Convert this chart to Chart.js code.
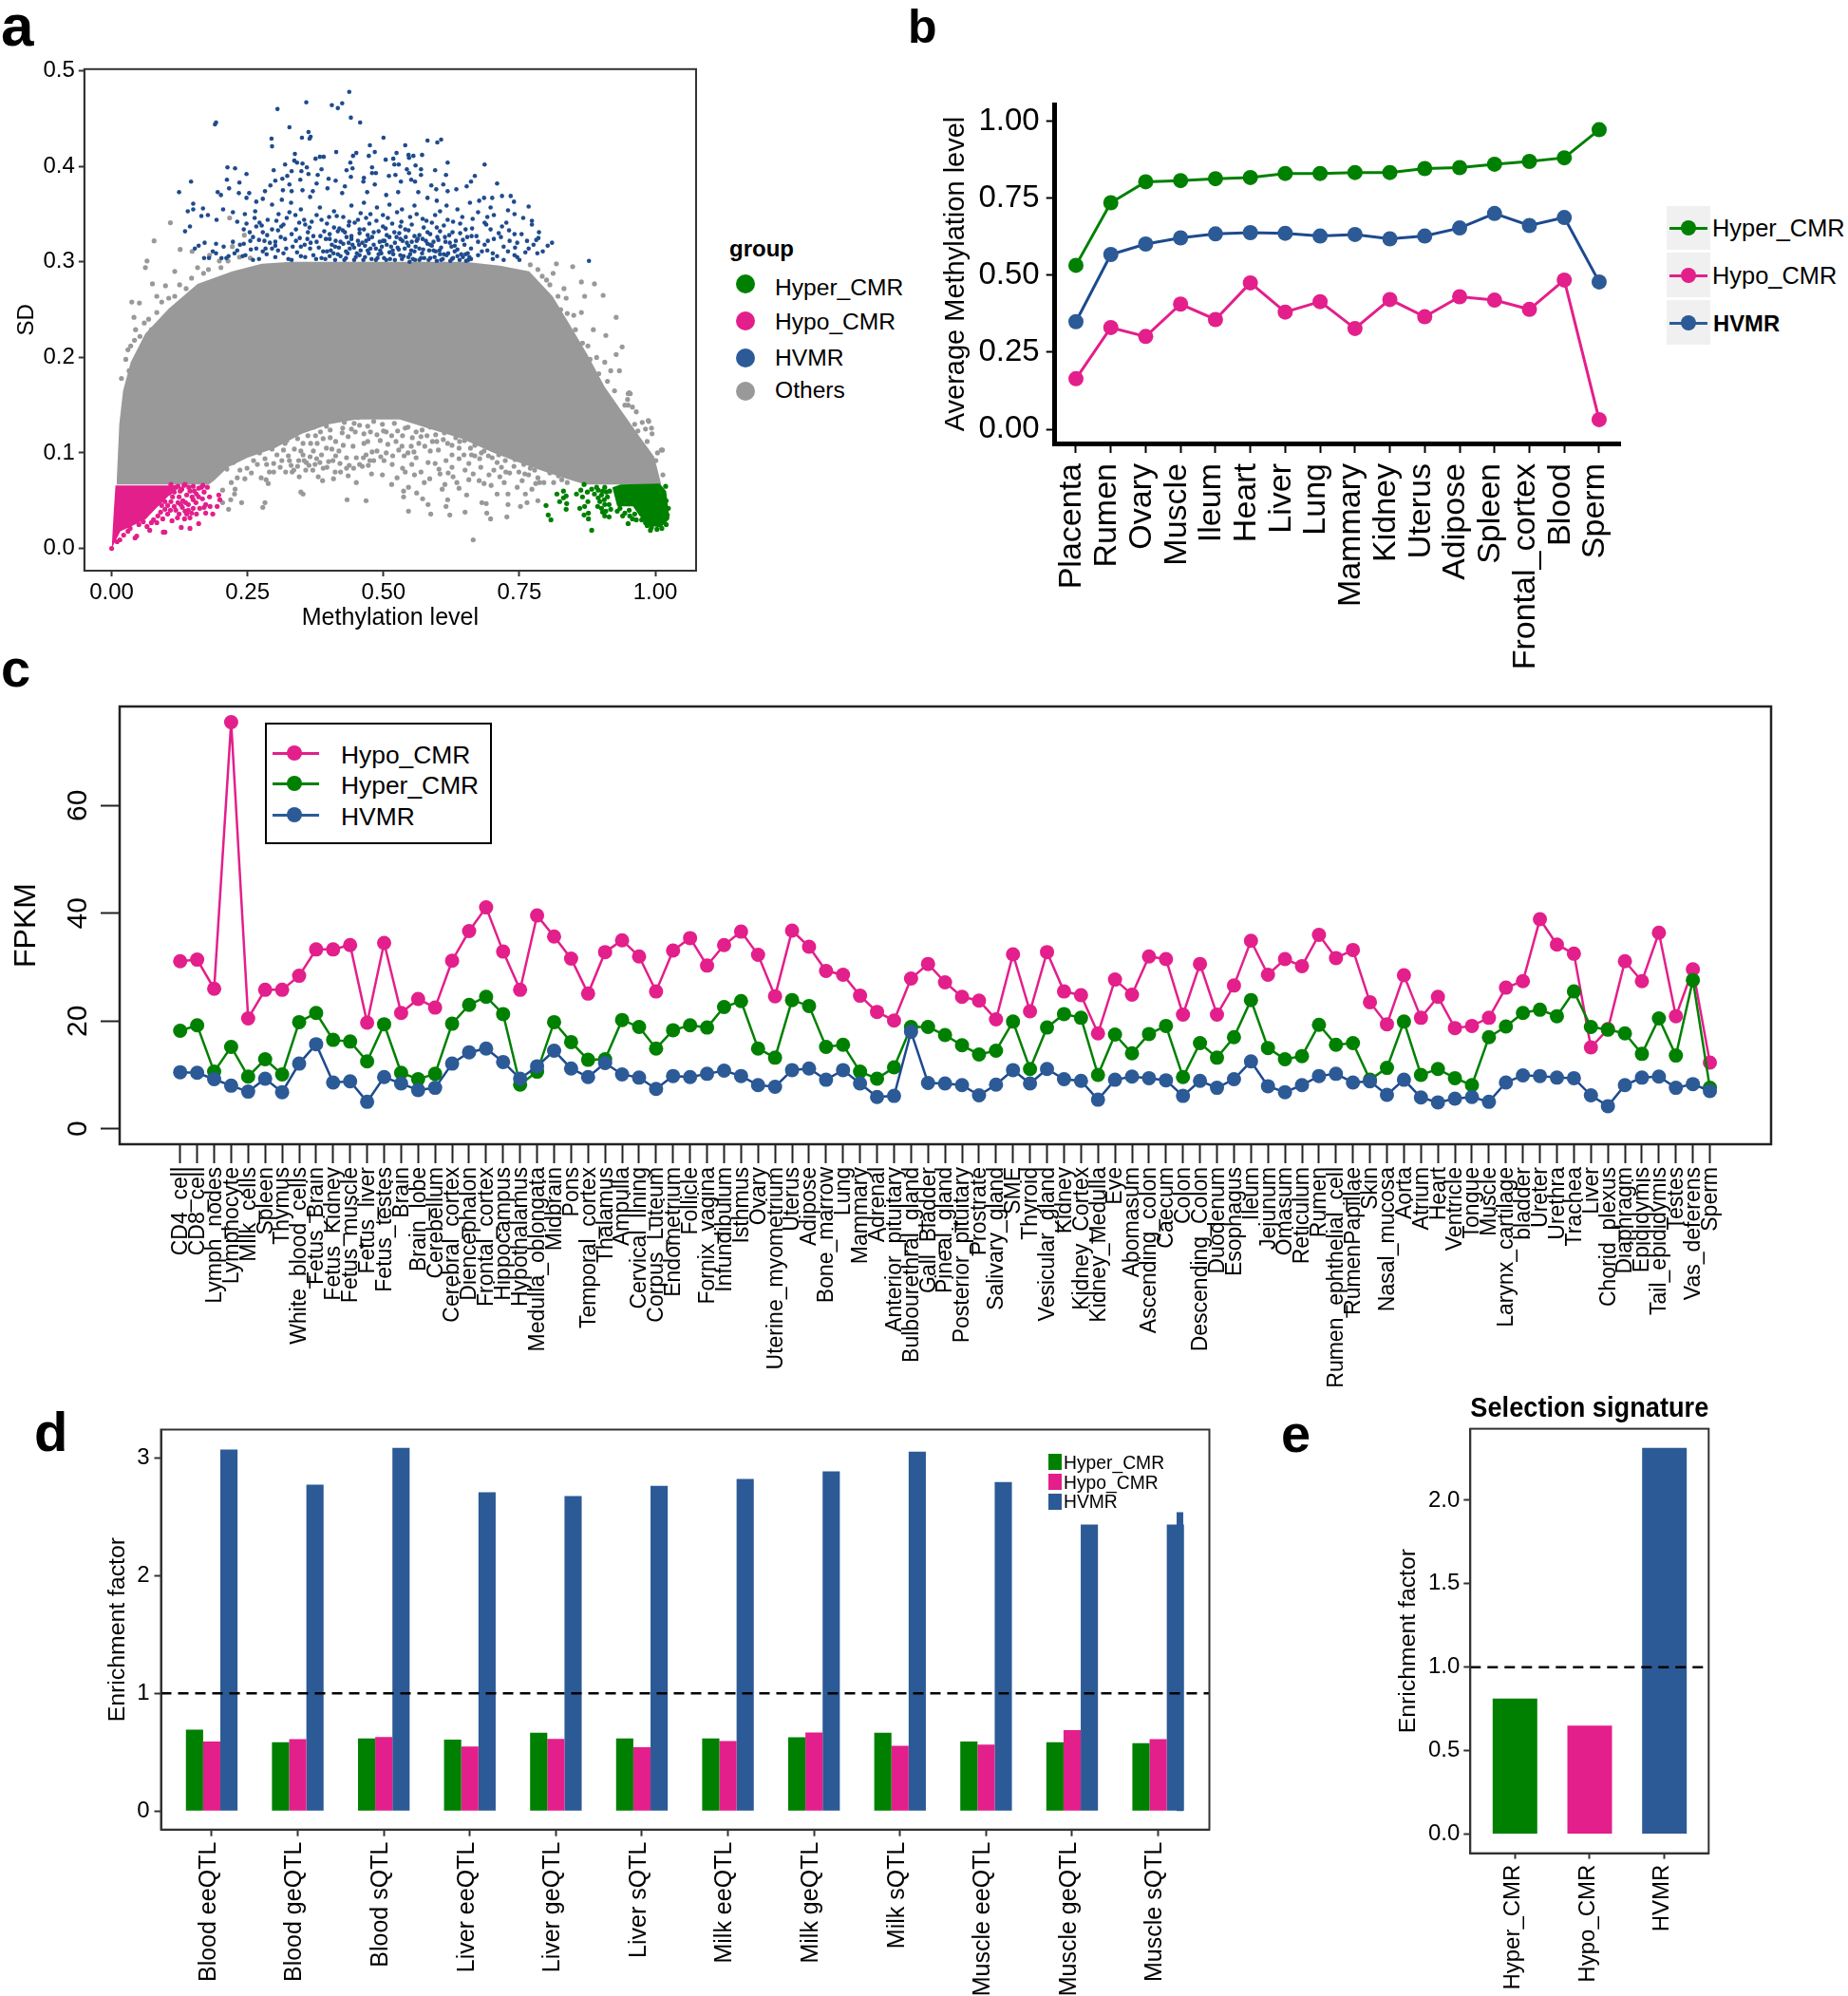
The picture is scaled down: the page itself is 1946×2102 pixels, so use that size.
<!DOCTYPE html>
<html><head><meta charset="utf-8">
<script src="https://cdn.jsdelivr.net/npm/chart.js@4"></script>
<style>
html,body{margin:0;padding:0;background:#fff;width:1946px;height:2102px;overflow:hidden;font-family:"Liberation Sans",Arial,sans-serif}
canvas{position:absolute}
.t{position:absolute;line-height:1;white-space:nowrap;color:#000}
.s{position:absolute}
</style></head><body>
<script>
// ---------- panel a : scatter values ----------
const hvmrPoints=[[.437,.478],[.358,.467],[.424,.466],[.405,.464],[.416,.461],[.305,.460],[.440,.451],[.457,.446],[.192,.446],[.190,.444],[.327,.441],[.362,.436],[.366,.431],[.364,.429],[.350,.430],[.294,.429],[.295,.421],[.500,.430],[.581,.427],[.606,.428],[.599,.425],[.540,.422],[.475,.422],[.413,.415],[.484,.415],[.473,.411],[.450,.414],[.444,.411],[.524,.414],[.571,.412],[.546,.412],[.555,.411],[.547,.409],[.337,.413],[.390,.410],[.383,.410],[.375,.408],[.518,.408],[.504,.407],[.336,.406],[.618,.404],[.341,.404],[.351,.403],[.439,.404],[.520,.402],[.528,.402],[.686,.402],[.319,.402],[.213,.399],[.227,.398],[.479,.399],[.559,.401],[.359,.399],[.443,.398],[.432,.396],[.386,.397],[.349,.395],[.298,.396],[.569,.397],[.595,.396],[.543,.397],[.547,.393],[.248,.392],[.331,.395],[.323,.390],[.362,.392],[.379,.391],[.479,.393],[.486,.393],[.615,.391],[.668,.390],[.510,.390],[.569,.391],[.522,.391],[.440,.389],[.146,.384],[.212,.386],[.235,.383],[.314,.387],[.347,.386],[.399,.387],[.412,.385],[.464,.388],[.463,.384],[.532,.384],[.551,.386],[.558,.384],[.661,.384],[.709,.382],[.301,.385],[.292,.380],[.327,.381],[.377,.382],[.429,.379],[.484,.381],[.610,.381],[.588,.380],[.653,.379],[.216,.377],[.124,.373],[.195,.373],[.234,.372],[.253,.372],[.201,.370],[.248,.367],[.282,.374],[.315,.375],[.331,.374],[.351,.375],[.370,.374],[.397,.377],[.424,.372],[.470,.373],[.505,.370],[.527,.373],[.564,.373],[.597,.376],[.618,.374],[.634,.376],[.676,.364],[.685,.367],[.700,.367],[.718,.369],[.734,.369],[.740,.363],[.767,.358],[.150,.361],[.140,.353],[.150,.355],[.168,.356],[.177,.349],[.165,.348],[.205,.355],[.223,.352],[.245,.350],[.266,.363],[.278,.366],[.295,.360],[.313,.365],[.330,.362],[.348,.355],[.365,.368],[.383,.357],[.409,.353],[.441,.359],[.464,.362],[.488,.357],[.511,.360],[.534,.355],[.557,.359],[.581,.367],[.598,.364],[.616,.359],[.636,.355],[.659,.362],[.697,.357],[.729,.354],[.741,.350],[.757,.346],[.773,.343],[.144,.337],[.135,.332],[.193,.344],[.231,.342],[.243,.334],[.263,.346],[.287,.344],[.307,.350],[.327,.352],[.354,.344],[.377,.349],[.400,.347],[.426,.347],[.453,.344],[.476,.350],[.499,.349],[.525,.352],[.549,.347],[.572,.345],[.595,.349],[.618,.344],[.645,.347],[.674,.352],[.703,.349],[.686,.341],[.773,.339],[.266,.337],[.278,.331],[.295,.334],[.316,.339],[.339,.334],[.356,.339],[.371,.327],[.391,.332],[.409,.336],[.429,.331],[.447,.341],[.464,.334],[.482,.331],[.499,.337],[.520,.331],[.540,.334],[.557,.327],[.581,.331],[.598,.336],[.627,.331],[.651,.334],[.697,.334],[.718,.337],[.741,.329],[.786,.331],[.785,.325],[.764,.322],[.732,.322],[.703,.324],[.674,.321],[.654,.326],[.633,.322],[.613,.326],[.592,.321],[.572,.324],[.552,.321],[.531,.324],[.511,.326],[.493,.321],[.473,.324],[.453,.322],[.432,.326],[.412,.322],[.394,.324],[.377,.321],[.360,.324],[.339,.322],[.319,.324],[.301,.321],[.281,.322],[.260,.326],[.243,.319],[.223,.321],[.192,.319],[.171,.320],[.160,.317],[.153,.314],[.170,.304],[.179,.304],[.192,.309],[.202,.304],[.215,.306],[.231,.312],[.246,.307],[.260,.302],[.278,.311],[.295,.314],[.316,.309],[.333,.316],[.348,.306],[.365,.314],[.386,.304],[.403,.312],[.421,.306],[.438,.314],[.456,.307],[.476,.314],[.496,.309],[.517,.312],[.537,.306],[.557,.311],[.575,.304],[.592,.312],[.616,.307],[.636,.306],[.656,.302],[.674,.307],[.691,.312],[.709,.306],[.729,.311],[.750,.302],[.767,.314],[.783,.309],[.793,.311],[.802,.317],[.810,.320],[.878,.301],
[.264,.353],[.272,.341],[.303,.343],[.322,.346],[.338,.349],[.368,.342],[.386,.344],[.414,.348],[.437,.342],[.458,.351],[.468,.346],[.487,.343],[.508,.346],[.533,.342],[.561,.350],[.579,.343],[.604,.353],[.628,.342],[.664,.345],[.691,.347],[.248,.340],[.276,.338],[.312,.337],[.345,.341],[.364,.336],[.396,.340],[.419,.335],[.436,.338],[.456,.334],[.474,.340],[.504,.335],[.516,.340],[.531,.337],[.552,.339],[.574,.336],[.589,.341],[.611,.338],[.641,.340],[.663,.335],[.689,.339],[.726,.341],[.254,.331],[.286,.328],[.306,.333],[.331,.329],[.361,.331],[.384,.327],[.401,.329],[.416,.332],[.441,.327],[.456,.330],[.471,.328],[.491,.332],[.506,.328],[.529,.330],[.546,.333],[.566,.328],[.586,.329],[.604,.332],[.621,.328],[.641,.330],[.662,.327],[.712,.330],[.731,.333],[.754,.329],[.271,.323],[.291,.320],[.311,.326],[.346,.325],[.366,.320],[.401,.324],[.421,.321],[.441,.324],[.461,.320],[.479,.326],[.502,.322],[.521,.320],[.541,.326],[.561,.322],[.581,.319],[.601,.323],[.622,.320],[.646,.323],[.671,.327],[.692,.322],[.716,.326],[.746,.320],[.781,.323],[.206,.316],[.236,.318],[.266,.314],[.301,.317],[.321,.314],[.355,.318],[.381,.315],[.411,.316],[.426,.319],[.446,.315],[.466,.317],[.486,.314],[.506,.318],[.526,.315],[.546,.317],[.566,.314],[.586,.318],[.606,.315],[.631,.317],[.661,.314],[.686,.318],[.721,.316],[.742,.315],[.776,.318],[.186,.311],[.226,.309],[.256,.313],[.285,.308],[.306,.312],[.341,.310],[.371,.307],[.396,.311],[.416,.308],[.431,.311],[.451,.309],[.471,.312],[.491,.308],[.511,.310],[.531,.307],[.551,.312],[.571,.309],[.596,.311],[.611,.308],[.631,.311],[.651,.308],[.681,.311],[.701,.309],[.741,.307],[.761,.310],[.211,.304],[.241,.306],[.271,.303],[.301,.305],[.331,.302],[.356,.305],[.376,.303],[.401,.306],[.411,.302],[.431,.304],[.446,.302],[.466,.305],[.486,.302],[.501,.304],[.521,.302],[.546,.305],[.566,.302],[.586,.304],[.606,.302],[.626,.303],[.646,.305],[.661,.303],[.701,.303],[.721,.302],[.746,.305],[.528,.313],[.512,.303],[.548,.300],[.558,.302],[.598,.301],[.623,.301],[.640,.302],[.652,.301],[.655,.309],[.604,.308],[.584,.312],[.535,.322],[.497,.316],[.478,.303],[.455,.318],[.436,.320],[.425,.333],[.405,.318],[.389,.311],[.348,.316],[.325,.303],[.283,.314],[.255,.322],
[.393,.303],[.408,.309],[.418,.315],[.428,.302],[.434,.309],[.443,.318],[.449,.305],[.458,.312],[.463,.302],[.468,.322],[.473,.309],[.482,.318],[.489,.304],[.494,.312],[.499,.322],[.505,.302],[.514,.316],[.518,.308],[.524,.326],[.534,.303],[.539,.314],[.543,.320],[.549,.308],[.554,.303],[.559,.316],[.563,.324],[.569,.304],[.573,.313],[.578,.322],[.583,.302],[.589,.317],[.594,.305],[.599,.326],[.603,.312],[.609,.303],[.614,.321],[.619,.309],[.625,.316],[.628,.304],[.636,.313],[.643,.308],[.649,.318],[.658,.305]];
const hypoPoints=[[.043,.011],[.046,.013],[.022,.014],[.015,.009],[.010,.007],[0,0],[.095,.017],[.098,.017],[.128,.022],[.144,.021],[.160,.026],[.070,.019],[.065,.023],[.073,.027],[.083,.027],[.094,.031],[.103,.036],[.111,.029],[.134,.031],[.124,.036],[.144,.032],[.156,.036],[.173,.037],[.186,.036],[.135,.039],[.150,.042],[.162,.042],[.173,.046],[.180,.054],[.194,.044],[.199,.051],[.197,.056],[.167,.052],[.150,.051],[.127,.046],[.115,.044],[.109,.049],[.124,.054],[.138,.056],[.156,.057],[.176,.064],[.165,.064],[.150,.065],[.135,.067],[.122,.065],[.109,.067],[.115,.059],[.129,.062],[.144,.060],[.170,.059],[.103,.045],[.090,.038],[.098,.041],[.118,.040],[.131,.050],[.141,.046],[.147,.037],[.155,.048],[.160,.054],[.126,.060],[.133,.066],[.142,.064],[.152,.060],[.160,.063],[.168,.066],[.118,.064],[.106,.058],[.098,.049],[.092,.045],[.085,.034],[.077,.030],[.108,.040],[.121,.032],[.141,.040],[.130,.043],[.138,.036],[.170,.043],[.181,.044],[.148,.054],[.136,.048],[.122,.048],[.112,.054],[.100,.062],[.030,.018],[.034,.021],[.050,.025],[.058,.028]];
const hyperPoints=[[.799,.045],[.803,.035],[.808,.030],[.883,.019],[.991,.019],[.819,.057],[.831,.060],[.836,.055],[.831,.053],[.824,.049],[.837,.047],[.836,.041],[.855,.057],[.863,.061],[.869,.067],[.866,.054],[.875,.059],[.876,.049],[.861,.042],[.870,.044],[.877,.037],[.869,.035],[.877,.031],[.883,.062],[.895,.061],[.907,.064],[.901,.056],[.898,.049],[.912,.054],[.907,.046],[.915,.046],[.901,.042],[.909,.039],[.907,.034],[.915,.033],[.930,.039],[.944,.037],[.953,.034],[.950,.026],[.962,.036],[.982,.027],[.985,.024],[1.019,.065],[1.020,.025],[.888,.057],[.895,.053],[.892,.064],[.903,.060],[.910,.059],[.906,.051],[.916,.060],[.894,.044],[.903,.038],[.918,.041],[.935,.042],[.940,.034],[.952,.040],[.958,.031],[.965,.030],[.975,.030],[.993,.022],[1.003,.020],[1.012,.021],[1.022,.035],[1.024,.042],[1.020,.050]];
const otherPoints=[[.204,.061],[.227,.062],[.226,.057],[.204,.048],[.219,.051],[.239,.048],[.215,.041],[.278,.043],[.282,.048],[.348,.059],[.352,.057],[.433,.051],[.468,.050],[.388,.071],[.450,.069],[.515,.067],[.288,.068],[.284,.072],[.275,.074],[.290,.080],[.298,.080],[.332,.080],[.335,.082],[.357,.082],[.363,.087],[.374,.088],[.389,.084],[.411,.080],[.421,.080],[.445,.084],[.456,.088],[.463,.095],[.461,.086],[.501,.092],[.516,.088],[.517,.097],[.479,.101],[.432,.095],[.412,.097],[.399,.091],[.377,.094],[.354,.092],[.330,.087],[.313,.092],[.298,.089],[.325,.097],[.348,.102],[.371,.102],[.395,.105],[.418,.102],[.444,.107],[.464,.110],[.488,.102],[.508,.109],[.523,.112],[.319,.110],[.342,.115],[.366,.110],[.389,.115],[.412,.112],[.435,.117],[.464,.120],[.488,.119],[.505,.122],[.526,.123],[.295,.104],[.272,.100],[.249,.084],[.231,.074],[.220,.069],[.261,.092],[.278,.109],[.301,.119],[.330,.127],[.360,.133],[.389,.132],[.418,.140],[.453,.137],[.482,.133],[.511,.140],
[.665,.009],[.546,.039],[.587,.036],[.622,.035],[.650,.038],[.690,.037],[.697,.031],[.727,.033],[.615,.044],[.618,.051],[.582,.046],[.572,.052],[.561,.058],[.537,.060],[.546,.064],[.537,.054],[.608,.062],[.613,.067],[.635,.069],[.639,.063],[.653,.056],[.681,.048],[.689,.047],[.729,.046],[.752,.044],[.764,.048],[.784,.050],[.709,.057],[.729,.057],[.746,.064],[.761,.057],[.773,.062],[.787,.069],[.813,.069],[.828,.072],[.698,.066],[.676,.071],[.714,.075],[.732,.079],[.749,.080],[.767,.077],[.784,.074],[.694,.077],[.665,.078],[.650,.082],[.619,.079],[.604,.078],[.575,.069],[.557,.077],[.540,.080],[.569,.080],[.595,.089],[.615,.092],[.639,.094],[.668,.097],[.709,.090],[.778,.082],[.802,.087],[.831,.080],[.819,.095],[.773,.095],[.732,.102],[.685,.102],[.639,.105],[.586,.102],[.551,.107],[.560,.095],[.534,.107],[.569,.117],[.610,.114],[.656,.120],[.703,.107],[.738,.105],[.586,.127],[.545,.127],[.621,.127],[.679,.127],
[.950,.162],[.954,.162],[.949,.156],[.958,.148],[.965,.143],[.976,.132],[.988,.133],[.982,.125],[.994,.120],[.968,.123],[1.013,.103],[1.014,.077],[1.001,.092],[1.004,.100],
[.108,.341],[.078,.322],[.065,.301],[.062,.294],[.037,.258],[.051,.257],[.041,.242],[.044,.229],[.075,.277],[.099,.275],[.126,.313],[.148,.311],[.116,.290],[.217,.346],[.158,.294],[.180,.307],[.244,.328],[.222,.316],[.818,.298],[.848,.295],[.864,.279],[.888,.277],[.904,.265],[.928,.242],[.870,.264],[.909,.223],[.939,.211],[.928,.203],[.952,.163],[.950,.150],[.934,.186],[.987,.134],[.993,.126],[1.011,.103],[.832,.272],[.821,.264],[.800,.281],[.784,.292],[.853,.229],[.886,.229],[.907,.195],[.864,.247],[.083,.264],[.083,.247],[.073,.229],[.116,.264],[.137,.272],[.169,.288],[.201,.294],[.035,.212],[.032,.186],
[.212,.083],[.224,.090],[.236,.082],[.245,.073],[.257,.079],[.268,.088],[.282,.094],[.304,.098],[.316,.103],[.336,.104],[.352,.098],[.361,.118],[.378,.110],[.384,.122],[.402,.116],[.424,.121],[.441,.125],[.456,.129],[.471,.112],[.494,.113],[.515,.118],[.535,.118],[.553,.116],[.571,.124],[.596,.119],[.612,.121],[.633,.116],[.649,.113],[.668,.108],[.688,.112],[.712,.098],[.724,.092],[.742,.093],[.758,.088],[.791,.085],[.806,.079],[.822,.076],[.838,.069],[.270,.110],[.288,.115],[.311,.124],[.345,.125],[.372,.127],[.395,.128],[.428,.132],[.446,.131],[.471,.128],[.498,.130],[.520,.131],[.344,.092],[.365,.096],[.386,.098],[.405,.104],[.426,.108],[.475,.092],[.495,.096],[.538,.097],[.556,.101],[.576,.107],[.601,.103],[.626,.098],[.648,.098],[.693,.097],[.717,.085],[.740,.086],[.770,.084],[.535,.084],[.552,.088],[.582,.090],[.602,.083],[.626,.085],[.657,.089],[.679,.085],[.703,.082],[.585,.073],[.628,.075],[.657,.072],[.685,.068],[.722,.069],[.755,.071],[.795,.069],[.320,.080],[.345,.075],[.380,.075],[.408,.073],[.435,.076],[.478,.078],[.498,.077],[.525,.074],[.472,.087],[.437,.087],
[.018,.178],[.026,.198],[.030,.208],[.042,.218],[.052,.222],[.060,.236],[.068,.240],[.092,.258],[.105,.262],[.125,.276],[.147,.283],[.178,.292],[.198,.301],[.214,.301],[.235,.305],[.255,.304],[.770,.297],[.792,.285],[.806,.276],[.826,.250],[.838,.246],[.852,.218],[.866,.215],[.880,.198],[.896,.183],[.912,.175],[.925,.165],[.944,.150],[.962,.130],[.985,.112],[.812,.288],[.836,.262],[.850,.244],[.876,.212],[.892,.200],[.918,.186],
[.285,.088],[.310,.085],[.327,.092],[.342,.086],[.358,.090],[.370,.082],[.383,.090],[.396,.085],[.407,.092],[.420,.089],[.432,.084],[.450,.095],[.468,.098],[.482,.092],[.505,.100],[.528,.103],[.545,.100],[.565,.110],[.590,.112],[.618,.110],[.640,.112],[.662,.098],[.677,.094],[.700,.095],[.725,.080],[.760,.078],[.780,.068],[.300,.109],[.322,.113],[.352,.110],[.375,.118],[.402,.124],[.425,.126],[.448,.122],[.476,.122],[.500,.123],[.540,.126],[.560,.122],[.580,.118],[.598,.112],[.626,.108],[.660,.105],[.680,.100]];
// outlines of the saturated clouds
const othersTop=[[.009,.067],[.014,.130],[.021,.165],[.035,.195],[.062,.225],[.105,.251],[.158,.277],[.222,.290],[.276,.298],[.329,.300],[.650,.300],[.714,.296],[.768,.290],[.811,.264],[.843,.234],[.875,.203],[.907,.169],[.939,.143],[.971,.117],[.998,.096],[1.011,.067]];
const othersBottom=[[.009,.067],[.179,.067],[.190,.072],[.214,.085],[.250,.095],[.300,.105],[.350,.120],[.400,.130],[.450,.135],[.530,.135],[.586,.125],[.644,.115],[.703,.100],[.749,.090],[.808,.078],[.854,.070],[.872,.067],[1.011,.067]];
const hypoTop=[[0,0],[.002,.020],[.004,.040],[.007,.066],[.125,.066]];
const hypoBottom=[[0,0],[.016,.018],[.039,.024],[.063,.031],[.080,.041],[.103,.054],[.125,.066]];
const hyperTop=[[.921,.064],[.936,.067],[1.008,.068],[1.020,.060],[1.026,.031]];
const hyperBottom=[[.921,.064],[.930,.044],[.959,.044],[.971,.034],[.988,.024],[1.010,.022],[1.026,.031]];
const aXTicks=[0,.25,.5,.75,1], aYTicks=[0,.1,.2,.3,.4,.5];

// ---------- panel b ----------
const bTissues=["Placenta","Rumen","Ovary","Muscle","Ileum","Heart","Liver","Lung","Mammary","Kidney","Uterus","Adipose","Spleen","Frontal_cortex","Blood","Sperm"];
const bHyper=[.532,.735,.803,.807,.813,.817,.830,.830,.833,.833,.846,.849,.860,.869,.881,.972];
const bHvmr=[.349,.567,.601,.621,.634,.638,.636,.627,.632,.618,.627,.653,.700,.661,.687,.478];
const bHypo=[.164,.330,.301,.406,.356,.475,.380,.414,.327,.421,.365,.430,.419,.389,.484,.031];

// ---------- panel c ----------
const cTissues=["CD4_cell","CD8_cell","Lymph_nodes","Lymphocyte","Milk_cells","Spleen","Thymus","White_blood_cells","Fetus_Brain","Fetus_Kidney","Fetus_muscle","Fetus_liver","Fetus_testes","Brain","Brain_lobe","Cerebellum","Cerebral_cortex","Diencephalon","Frontal_cortex","Hippocampus","Hypothalamus","Medulla_oblongata","Midbrain","Pons","Temporal_cortex","Thalamus","Ampulla","Cervical_lining","Corpus_Luteum","Endometrium","Follicle","Fornix_vagina","Infundibulum","Isthmus","Ovary","Uterine_myometrium","Uterus","Adipose","Bone_marrow","Lung","Mammary","Adrenal","Anterior_pituitary","Bulbourethral_gland","Gall_Bladder","Pineal_gland","Posterior_pituitary","Prostrate","Salivary_gland","SME","Thyroid","Vesicular_gland","Kidney","Kidney_Cortex","Kidney_Medulla","Eye","Abomasum","Ascending_colon","Caecum","Colon","Descending_Colon","Duodenum","Esophagus","Ileum","Jejunum","Omasum","Reticulum","Rumen","Rumen_ephthelial_cell","RumenPapillae","Skin","Nasal_mucosa","Aorta","Atrium","Heart","Ventricle","Tongue","Muscle","Larynx_cartilage","bladder","Ureter","Urethra","Trachea","Liver","Chorid_plexus","Diaphragm","Epididymis","Tail_epididymis","Testes","Vas_deferens","Sperm"];
const cHypo=[31.1,31.4,26.0,75.5,20.5,25.8,25.8,28.4,33.3,33.3,34.1,19.7,34.5,21.5,24.1,22.5,31.2,36.7,41.1,32.9,25.8,39.6,35.7,31.6,25.1,32.8,35.0,32.0,25.5,33.1,35.4,30.3,34.1,36.6,32.3,24.6,36.8,33.8,29.3,28.6,24.7,21.7,20.1,27.9,30.6,27.2,24.5,23.8,20.3,32.4,21.8,32.8,25.5,24.8,17.7,27.7,24.9,32.0,31.5,21.2,30.6,21.2,26.6,34.9,28.6,31.5,30.2,36.0,31.7,33.2,23.5,19.4,28.5,20.6,24.5,18.7,19.1,20.6,26.2,27.4,38.9,34.2,32.5,15.1,18.5,31.1,27.4,36.4,20.9,29.6,12.3];
const cHyper=[18.2,19.2,10.6,15.2,9.7,12.9,10.1,19.8,21.5,16.5,16.2,12.5,19.4,10.4,9.2,10.2,19.5,23.0,24.5,21.3,8.2,10.6,19.8,16.1,12.8,12.9,20.2,18.9,14.9,18.3,19.2,18.8,22.6,23.7,14.9,13.2,23.9,22.8,15.2,15.6,10.6,9.3,11.4,18.9,18.9,17.4,15.5,13.8,14.5,19.9,11.1,18.8,21.3,20.6,10.0,17.5,14.0,17.6,19.1,9.6,15.9,13.2,17.0,23.9,15.0,12.9,13.5,19.3,15.6,15.9,9.1,11.3,19.9,10.0,11.1,9.4,8.1,17.0,19.0,21.5,22.1,20.9,25.5,18.9,18.4,17.7,13.9,20.5,13.6,27.6,7.6];
const cHvmr=[10.5,10.4,9.2,8.0,6.9,9.3,6.8,12.1,15.7,8.6,8.8,5.0,9.6,8.4,7.2,7.6,12.1,14.2,14.9,12.4,9.3,11.6,14.5,11.2,9.6,12.2,10.1,9.5,7.4,9.8,9.6,10.2,10.8,9.8,8.1,7.8,10.9,11.2,9.1,10.9,8.4,5.9,6.1,18.0,8.5,8.4,8.1,6.2,8.2,10.9,8.4,11.1,9.2,8.9,5.4,9.1,9.7,9.4,9.0,6.1,8.9,7.6,9.2,12.5,7.9,6.8,8.1,9.8,10.2,8.6,8.8,6.3,9.1,5.8,4.9,5.6,5.9,5.0,8.6,9.9,9.8,9.5,9.4,6.2,4.2,8.1,9.5,9.7,7.6,8.3,7.0];
const cYTicks=[0,20,40,60];

// ---------- panel d ----------
const dGroups=["Blood eeQTL","Blood geQTL","Blood sQTL","Liver eeQTL","Liver geQTL","Liver sQTL","Milk eeQTL","Milk geQTL","Milk sQTL","Muscle eeQTL","Muscle geQTL","Muscle sQTL"];
const dHyper=[.692,.585,.617,.608,.666,.617,.617,.627,.666,.591,.585,.578];
const dHypo=[.591,.611,.630,.549,.614,.543,.595,.669,.556,.565,.689,.611];
const dHvmr=[3.071,2.772,3.084,2.707,2.675,2.762,2.821,2.886,3.052,2.795,2.434,2.434];
const dHvmrExtra=[[11.253,0],[11.253,2.538]]; // the stray taller sliver on the last bar
// ---------- panel e ----------
const eGroups=["Hyper_CMR","Hypo_CMR","HVMR"];
const eValues=[.8125,.649,2.315];

// ---------- styling ----------
const GREEN="#008000",PINK="#E31F8B",BLUE="#2C5A96",BLUEDOT="#1F4B8C",BLUELINE="#1D4A8F",GREY="#999999",FAM='"Liberation Sans",Arial,sans-serif';
Chart.defaults.font.family=FAM; Chart.defaults.color="#000"; Chart.defaults.animation=false;

const pts=a=>a.map(([x,y])=>({x,y}));
const xy=a=>a.map((y,x)=>({x,y}));
const onlyTicks=list=>s=>{s.ticks=list.map(v=>({value:v}));};
const noScalePad=s=>{s.paddingTop=0;s.paddingBottom=0;s.paddingLeft=0;s.paddingRight=0;};

const frameBox=(color,w)=>({id:'frameBox',afterDatasetsDraw(ch){const a=ch.chartArea,c=ch.ctx;c.save();c.strokeStyle=color;c.lineWidth=w;c.strokeRect(a.left,a.top,a.right-a.left,a.bottom-a.top);c.restore();}});

function panel(rect,frame,cfg,noTopPad){
  const cv=document.createElement('canvas');
  cv.width=rect.r-rect.l; cv.height=rect.b-rect.t;
  cv.style.left=rect.l+'px'; cv.style.top=rect.t+'px';
  document.body.appendChild(cv);
  cfg.options=cfg.options||{};
  cfg.options.responsive=false; cfg.options.maintainAspectRatio=false; cfg.options.events=[];
  cfg.options.layout={autoPadding:false,padding:{left:0,bottom:0,right:rect.r-frame.r,top:noTopPad?0:frame.t-rect.t}};
  cfg.options.scales.x.afterFit=s=>{s.height=rect.b-frame.b;noScalePad(s);};
  cfg.options.scales.y.afterFit=s=>{s.width=frame.l-rect.l;noScalePad(s);};
  cfg.options.plugins=Object.assign({legend:{display:false},tooltip:{enabled:false}},cfg.options.plugins||{});
  return new Chart(cv,cfg);
}
function axis(o){
  const a={type:'linear',min:o.min,max:o.max,offset:false,
    grid:{offset:false,drawOnChartArea:false,drawTicks:true,tickLength:o.tick,tickColor:o.tickColor||'#333',tickWidth:o.tickW||2},
    border:{display:true,color:o.bc||'#333',width:o.bw||2},
    ticks:{autoSkip:false,padding:o.pad,color:o.color||'#000',font:{size:o.size},callback:o.cb,display:o.show!==false,labelOffset:o.off||0}};
  if(o.vert){a.ticks.minRotation=90;a.ticks.maxRotation=90;}
  if(o.list)a.afterBuildTicks=onlyTicks(o.list);
  if(o.title)a.title={display:true,text:o.title,padding:0,font:{size:o.tsize},color:'#000'};
  return a;
}
// ---------- a ----------
panel({l:14,t:50,r:738,b:666},{l:88.8,t:72.8,r:733,b:601},{type:'scatter',data:{datasets:[
 {label:'Hyper_CMR',data:pts(hyperPoints),backgroundColor:GREEN,pointRadius:2.6,borderWidth:0},
 {label:'Hypo_CMR',data:pts(hypoPoints),backgroundColor:PINK,pointRadius:2.6,borderWidth:0},
 {label:'Hyper_CMR cloud',data:pts(hyperTop),showLine:true,fill:'+1',backgroundColor:GREEN,borderWidth:0,pointRadius:0},
 {label:'Hyper_CMR cloud',data:pts(hyperBottom),showLine:true,borderWidth:0,pointRadius:0},
 {label:'Hypo_CMR cloud',data:pts(hypoTop),showLine:true,fill:'+1',backgroundColor:PINK,borderWidth:0,pointRadius:0},
 {label:'Hypo_CMR cloud',data:pts(hypoBottom),showLine:true,borderWidth:0,pointRadius:0},
 {label:'HVMR',data:pts(hvmrPoints),backgroundColor:BLUEDOT,pointRadius:2.3,borderWidth:0},
 {label:'Others',data:pts(otherPoints),backgroundColor:GREY,pointRadius:2.6,borderWidth:0},
 {label:'Others cloud',data:pts(othersTop),showLine:true,fill:'+1',backgroundColor:GREY,borderWidth:0,pointRadius:0},
 {label:'Others cloud',data:pts(othersBottom),showLine:true,borderWidth:0,pointRadius:0}
]},options:{scales:{
 x:axis({min:-.0503,max:1.075,tick:6,pad:3,size:24,list:aXTicks,cb:v=>v.toFixed(2),title:'Methylation level',tsize:25}),
 y:axis({min:-.0233,max:.5018,tick:6,pad:4,size:24,list:aYTicks,cb:v=>v.toFixed(1),title:'SD',tsize:24})
}},plugins:[frameBox('#333',2)]});

// ---------- b ----------
const lineSet=(label,vals,color,lc,r,w)=>({label,data:xy(vals),showLine:true,borderColor:lc||color,backgroundColor:color,pointBackgroundColor:color,pointBorderWidth:0,pointRadius:r,borderWidth:w});
panel({l:990,t:100,r:1714,b:725},{l:1110.7,t:110,r:1706,b:467},{type:'scatter',data:{datasets:[
 lineSet('Hyper_CMR',bHyper,GREEN,GREEN,8,3),
 lineSet('HVMR',bHvmr,BLUE,BLUELINE,8,3),
 lineSet('Hypo_CMR',bHypo,PINK,PINK,8,3)
]},options:{scales:{
 x:axis({min:-.607,max:15.6,tick:10,pad:11,size:34,vert:true,off:-4,list:bTissues.map((_,i)=>i),cb:v=>bTissues[v],bc:'#000',bw:5,tickColor:'#000',color:'#000'}),
 y:axis({min:-.0462,max:1.054,tick:9,pad:7,size:33,list:[0,.25,.5,.75,1],cb:v=>v.toFixed(2),bc:'#000',bw:5,tickColor:'#000',title:'Average Methylation level',tsize:29})
}}});

// ---------- c ----------
const rotatedYTicks={id:'rotatedYTicks',afterDraw(ch){const s=ch.scales.y,c=ch.ctx;c.save();c.font='30px '+FAM;c.fillStyle='#000';c.textAlign='center';c.textBaseline='middle';
 cYTicks.forEach(v=>{c.save();c.translate(ch.chartArea.left-43.4,s.getPixelForValue(v));c.rotate(-Math.PI/2);c.fillText(String(v),0,0);c.restore();});c.restore();}};
panel({l:9,t:738,r:1872,b:1480},{l:126,t:744,r:1865,b:1205},{type:'scatter',data:{datasets:[
 lineSet('HVMR',cHvmr,BLUE,BLUELINE,7.5,2.5),
 lineSet('Hyper_CMR',cHyper,GREEN,GREEN,7.5,2.5),
 lineSet('Hypo_CMR',cHypo,PINK,PINK,7.5,2.5)
]},options:{scales:{
 x:axis({min:-3.56,max:93.6,tick:20,pad:4,size:23,vert:true,off:1,list:cTissues.map((_,i)=>i),cb:v=>cTissues[v],bc:'#222',tickColor:'#222'}),
 y:axis({min:-2.87,max:78.4,tick:20,pad:4,size:30,list:cYTicks,cb:()=>'',bc:'#222',tickColor:'#222',title:'FPKM',tsize:32})
}},plugins:[frameBox('#222',2.5),rotatedYTicks]});

// ---------- d ----------
const barSet=(label,vals,color)=>({type:'bar',label,data:xy(vals),backgroundColor:color,borderWidth:0,categoryPercentage:.6,barPercentage:1});
const dashed=(a,b)=>({type:'scatter',label:'Enrichment = 1',data:[{x:a,y:1},{x:b,y:1}],showLine:true,borderColor:'#000',borderDash:[11,7],borderWidth:2.5,pointRadius:0});
panel({l:109,t:1500,r:1278,b:2102},{l:169.5,t:1505.5,r:1273.5,b:1926.7},{type:'bar',data:{datasets:[
 dashed(-.59,11.595),
 {type:'scatter',label:'HVMR',data:pts(dHvmrExtra),showLine:true,borderColor:BLUE,borderWidth:7,pointRadius:0},
 barSet('Hyper_CMR',dHyper,GREEN),barSet('Hypo_CMR',dHypo,PINK),barSet('HVMR',dHvmr,BLUE)
]},options:{scales:{
 x:axis({min:-.59,max:11.595,tick:7,pad:6,size:25,vert:true,off:-3,list:dGroups.map((_,i)=>i),cb:v=>dGroups[v]}),
 y:axis({min:-.156,max:3.24,tick:7,pad:5,size:24,list:[0,1,2,3],cb:v=>String(v),title:'Enrichment factor',tsize:24.8})
}},plugins:[frameBox('#333',2)]});

// ---------- e ----------
panel({l:1468,t:1467,r:1805,b:2102},{l:1548.3,t:1504.6,r:1799.3,b:1951.6},{type:'bar',data:{datasets:[
 dashed(-.597,2.592),
 {type:'bar',label:'Enrichment factor',data:xy(eValues),backgroundColor:[GREEN,PINK,BLUE],borderWidth:0,categoryPercentage:.597,barPercentage:1}
]},options:{plugins:{title:{display:true,fullSize:false,text:'Selection signature',font:{size:28.6,weight:'bold'},color:'#000',padding:{top:0,bottom:3.3}}},scales:{
 x:axis({min:-.597,max:2.592,tick:6,pad:6,size:24,vert:true,off:-2,list:[0,1,2],cb:v=>eGroups[v]}),
 y:axis({min:-.115,max:2.429,tick:7,pad:4,size:24,list:[0,.5,1,1.5,2],cb:v=>v.toFixed(1),title:'Enrichment factor',tsize:24.8})
}},plugins:[frameBox('#333',2)]},true);

// ---------- letters and keys ----------
function text(s,x,yc,size,bold,z){const d=document.createElement('div');d.className='t';d.textContent=s;d.style.cssText+=`left:${x}px;top:${yc}px;font-size:${size}px;transform:translateY(-50%);font-weight:${bold?'bold':'normal'};z-index:${z||1}`;document.body.appendChild(d);}
function letter(s,x,base,size){const d=document.createElement('div');d.className='t';d.textContent=s;d.style.cssText+=`left:${x}px;top:${base-.8465*size}px;font-size:${size}px;font-weight:bold`;document.body.appendChild(d);}
function shape(x,y,w,h,color,round,z){const d=document.createElement('div');d.className='s';d.style.cssText=`left:${x}px;top:${y}px;width:${w}px;height:${h}px;background:${color};border-radius:${round?'50%':'0'};z-index:${z||1}`;document.body.appendChild(d);}
function dot(cx,cy,r,color,z){shape(cx-r,cy-r,2*r,2*r,color,true,z);}
letter('a',1,48,62);letter('b',956,45,50);letter('c',1,723,56);letter('d',36,1528,58);letter('e',1349,1529,56);
// a
text('group',768,262,24,true);
[['Hyper_CMR',GREEN,299,303],['Hypo_CMR',PINK,338,339],['HVMR',BLUE,377,377],['Others',GREY,412,411]].forEach(([n,c,y,ty])=>{dot(785,y,10,c);text(n,816,ty,24.6);});
// b
[['Hyper_CMR',GREEN,217,240],['Hypo_CMR',PINK,266,290],['HVMR',BLUE,316,340]].forEach(([n,c,t,y],i)=>{shape(1755,t,46,46+(i?1:0),'#F0F0F0');shape(1758,y-1.5,40,3,c,false,2);dot(1778,y,8,c,2);text(n,i==2?1804:1803,y+1,i==2?23.8:25.4,i==2);});
// c
shape(279,761,239,128,'#000',false,1);shape(281,763,235,124,'#fff',false,1);
[['Hypo_CMR',PINK,793],['Hyper_CMR',GREEN,825],['HVMR',BLUE,858]].forEach(([n,c,y])=>{shape(287,y-1,49,2.5,c,false,2);dot(310,y,8,c,2);text(n,359,y+2,26.4,false,2);});
// d
[['Hyper_CMR',GREEN,1531,1540.5],['Hypo_CMR',PINK,1552,1562],['HVMR',BLUE,1573,1582]].forEach(([n,c,t,y])=>{shape(1104,t,14,17,c);text(n,1120,y,19.3);});
</script>
</body></html>
